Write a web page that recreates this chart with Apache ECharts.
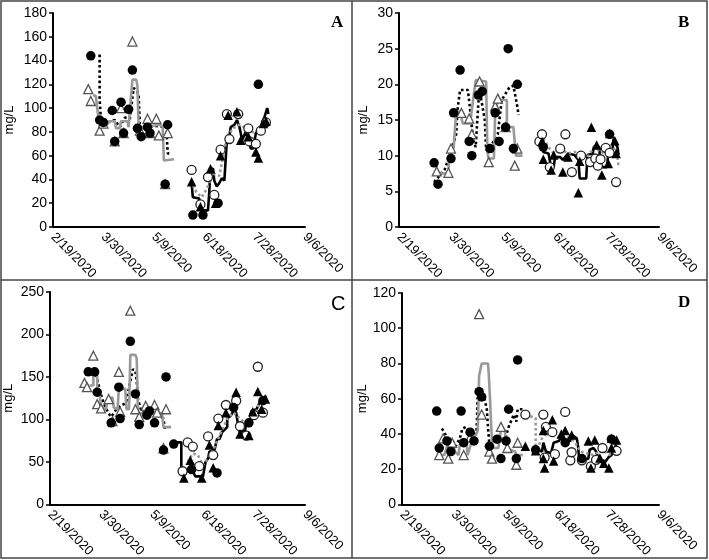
<!DOCTYPE html>
<html>
<head>
<meta charset="utf-8">
<script src="https://cdn.jsdelivr.net/npm/echarts@6/dist/echarts.min.js"></script>
<style>
  html, body { margin: 0; padding: 0; background: #fff; }
  #container { width: 709px; height: 560px; }
</style>
</head>
<body>
<div id="container"></div>
<script>
// ---- panel A ----
var aFilledCircles = [['3/20',144],['3/27',90],['3/30',88],['4/6',98],['4/8',72],['4/13',105],['4/15',79],['4/19',99],['4/22',132],['4/26',83],['4/29',76],['5/4',84],['5/6',79],['5/18',36],['5/20',86],['6/9',10],['6/17',10],['6/29',20],['7/31',120]];
var aOpenTriangles = [['3/18',116],['3/20',106],['3/27',81],['3/30',87],['4/8',72],['4/13',100],['4/15',79],['4/22',156],['4/28',81],['5/4',91],['5/6',79],['5/11',91],['5/13',77],['5/18',36],['5/20',79]];
var aOpenCircles = [['6/8',48],['6/15',19],['6/21',42],['6/26',27],['7/1',65],['7/6',95],['7/8',74],['7/15',95],['7/23',83],['7/24',72],['7/29',70],['8/2',81],['8/6',88]];
var aFilledTriangles = [['6/8',38],['6/15',17],['6/23',49],['6/27',20],['7/1',60],['7/7',94],['7/14',97],['7/17',73],['7/23',76],['7/29',63],['7/31',58],['8/4',87],['8/6',89]];
var aDotBlack = [['3/27',145],['3/27',108],['3/28',90],['4/2',88],['4/8',90],['4/12',84],['4/16',92],['4/20',91],['4/23',117],['4/26',114],['4/27',110],['4/28',84],['5/10',85],['5/19',84],['5/20',62],['5/23',61]];
var aGraySolid = [['3/22',111],['3/24',110],['3/27',83],['3/28',85],['4/1',85],['4/4',89],['4/8',89],['4/9',83],['4/12',83],['4/13',89],['4/18',89],['4/19',84],['4/22',124],['4/25',124],['4/26',119],['4/27',81],['5/3',84],['5/13',86],['5/16',85],['5/17',56],['5/25',57]];
var aBlackSolid = [['6/8',37],['6/9',25],['6/14',24],['6/15',14],['6/21',14],['6/22',29],['6/23',49],['6/25',49],['6/26',39],['6/28',34],['6/30',37],['7/2',41],['7/4',39],['7/6',73],['7/8',76],['7/9',84],['7/12',86],['7/14',90],['7/16',84],['7/17',79],['7/18',73],['7/21',80],['7/23',73],['7/25',66],['7/27',66],['7/29',79],['8/1',81],['8/2',85],['8/5',93],['8/7',100],['8/8',95]];
var aDotGray = [['6/9',35],['6/12',29],['6/16',25],['6/20',32],['6/25',45],['6/30',43],['7/6',76],['7/11',83],['7/16',86],['7/23',82],['7/28',79],['8/4',87],['8/8',93]];

// ---- panel B ----
var bFilledCircles = [['3/17',9],['3/20',6],['3/30',9.6],['4/1',16],['4/6',22],['4/13',12],['4/15',10],['4/20',18.5],['4/23',19],['4/29',11],['5/3',16],['5/6',12],['5/11',14],['5/13',25],['5/17',11],['5/20',20],['6/9',11.2],['7/30',13]];
var bOpenTriangles = [['3/19',7.8],['3/28',7.6],['3/30',11],['4/7',16],['4/13',15.2],['4/15',13],['4/21',20.4],['4/28',9.1],['5/3',16.9],['5/5',18],['5/11',14],['5/18',8.6],['5/20',11]];
var bOpenCircles = [['6/6',12],['6/8',13],['6/14',8.4],['6/22',11],['6/26',13],['7/1',7.7],['7/8',10],['7/15',9.1],['7/19',9.6],['7/21',8.6],['7/23',9.5],['7/27',11.1],['7/30',10.4],['8/4',6.3]];
var bFilledTriangles = [['6/8',12],['6/9',9.5],['6/15',8],['6/17',10.1],['6/24',7.7],['6/28',9.8],['7/6',4.8],['7/7',9.2],['7/16',14],['7/20',11.5],['7/24',7.3],['7/29',8.9],['7/30',13.1],['8/3',12.1],['8/4',10.3]];
var bDotBlack = [['3/17',6.3],['3/25',8],['3/30',10.5],['4/3',13],['4/4',16.4],['4/6',19.2],['4/12',19.2],['4/14',16],['4/16',12.2],['4/18',11.2],['4/20',17.3],['4/21',19.2],['4/25',15],['4/26',10.8],['4/28',10.8],['5/5',13],['5/8',17.8],['5/14',19.6],['5/17',19.8],['5/20',16.9],['5/21',15.7]];
var bGraySolid = [['3/18',7.8],['3/23',7.5],['3/28',7.5],['3/29',11],['4/1',11],['4/3',16.2],['4/6',16.2],['4/8',14.5],['4/13',14.5],['4/14',15],['4/18',20.6],['4/26',20.4],['4/27',10.5],['4/28',9.6],['5/2',9.6],['5/3',16],['5/5',17.8],['5/12',17.8],['5/12',14],['5/17',14],['5/19',10],['5/24',10]];
var bBlackSolid = [['6/8',11.8],['6/9',10.5],['6/13',10.3],['6/15',8.4],['6/17',8.4],['6/18',9.8],['6/22',9.8],['6/24',9.4],['6/28',10.3],['7/3',10.1],['7/6',9.4],['7/7',6.8],['7/12',6.8],['7/13',10.1],['7/17',10.3],['7/18',11.3],['7/22',11.2],['7/23',8.4],['7/28',8.4],['7/29',10.3],['8/1',10.3],['8/2',12.4],['8/5',11.2],['8/6',10.1]];
var bDotGray = [['6/9',12.4],['6/13',11.2],['6/17',10.3],['6/22',11],['6/28',10.3],['7/3',10.5],['7/8',10.5],['7/13',9.8],['7/18',11.2],['7/23',10.5],['7/28',10.3],['8/2',11.2],['8/5',9.8],['8/6',8.4]];

// ---- panel C ----
var cFilledCircles = [['3/20',156],['3/25',156],['3/27',132],['4/7',96],['4/13',138],['4/14',101],['4/22',192],['4/26',130],['4/29',94],['5/5',105],['5/7',110],['5/11',96],['5/18',64],['5/20',150],['5/26',71],['6/9',41],['6/29',37],['7/12',114],['7/24',96],['8/4',122]];
var cOpenTriangles = [['3/17',143],['3/19',138],['3/24',175],['3/27',118],['3/30',113],['4/5',124],['4/8',98],['4/13',156],['4/14',109],['4/22',228],['4/26',112],['4/29',103],['5/4',116],['5/11',117],['5/13',108],['5/18',66],['5/20',112]];
var cOpenCircles = [['6/2',39],['6/6',73],['6/10',68],['6/15',45],['6/22',80],['6/26',58],['6/30',101],['7/6',117],['7/14',122],['7/17',92],['7/22',81],['7/28',105],['7/31',162],['8/4',108]];
var cFilledTriangles = [['6/3',31],['6/8',52],['6/17',31],['6/23',70],['6/26',43],['6/30',93],['7/6',108],['7/14',132],['7/17',83],['7/24',81],['7/27',109],['7/31',133],['8/3',112],['8/6',124]];
var cDotBlack = [['3/25',159],['3/27',147],['3/31',124],['4/2',116],['4/5',107],['4/7',103],['4/11',112],['4/14',116],['4/17',118],['4/19',122],['4/22',145],['4/24',159],['4/26',157],['4/27',145],['4/28',124],['5/1',108],['5/11',107],['5/18',101],['5/19',91],['5/19',87]];
var cGraySolid = [['3/21',140],['3/24',140],['3/24',155],['3/27',153],['3/27',136],['3/29',130],['3/30',114],['4/3',112],['4/4',124],['4/8',126],['4/9',114],['4/12',112],['4/13',136],['4/18',136],['4/19',112],['4/21',112],['4/22',176],['4/26',176],['4/27',172],['4/28',108],['5/1',107],['5/15',108],['5/17',107],['5/18',91],['5/24',91]];
var cBlackSolid = [['5/28',73],['6/1',73],['6/1',35],['6/4',35],['6/5',39],['6/10',39],['6/12',33],['6/18',33],['6/20',50],['6/22',54],['6/23',62],['6/27',64],['6/29',77],['7/1',77],['7/3',85],['7/7',91],['7/7',101],['7/10',105],['7/12',110],['7/14',108],['7/16',89],['7/17',85],['7/21',87],['7/22',97],['7/25',97],['7/26',110],['7/30',112],['8/2',122],['8/4',120],['8/6',128]];
var cDotGray = [['6/6',50],['6/10',60],['6/14',58],['6/16',52],['6/18',46],['6/26',64],['7/1',81],['7/7',101],['7/12',108],['7/20',97],['7/28',101],['8/4',132]];

// ---- panel D ----
var dFilledCircles = [['3/17',53],['3/19',32],['3/25',36],['3/28',30],['4/5',53],['4/7',35],['4/12',41],['4/15',36],['4/19',64],['4/21',61],['4/27',33],['5/3',37],['5/6',26],['5/10',36],['5/12',54],['5/18',26],['5/19',82],['6/2',31],['6/25',35],['7/8',26],['7/31',37]];
var dOpenTriangles = [['3/19',28],['3/22',37.5],['3/26',26],['3/29',35],['4/7',28],['4/12',38],['4/19',108],['4/21',51],['4/27',30],['4/29',26],['5/6',44],['5/11',32],['5/18',22.5],['5/19',35]];
var dOpenCircles = [['5/25',51],['6/8',51],['6/9',26.6],['6/10',44],['6/15',41],['6/17',28.5],['6/25',52.5],['6/29',25],['6/30',29.6],['7/8',25],['7/15',21.6],['7/19',25.3],['7/24',32],['8/4',30.4]];
var dFilledTriangles = [['5/25',33],['6/2',30.4],['6/8',42],['6/8',26],['6/9',20.6],['6/15',48],['6/16',24.7],['6/22',40],['6/25',42],['6/30',39.4],['7/13',36],['7/15',20.6],['7/18',36.6],['7/22',26.3],['7/25',23.4],['7/29',20.6],['7/31',37.5],['7/31',32],['8/4',36.6]];
var dDotBlack = [['3/21',43],['3/23',41],['3/25',37.5],['3/27',33],['3/31',32],['4/4',37.5],['4/6',43],['4/9',44],['4/12',41],['4/14',39],['4/17',41],['4/18',64],['4/21',65],['4/23',61],['4/25',54],['4/26',43],['4/27',34],['4/29',32],['5/1',36],['5/4',37.5],['5/8',36],['5/10',39],['5/12',44],['5/13',45],['5/16',51],['5/18',47],['5/19',54],['5/23',54]];
var dGraySolid = [['3/19',28],['3/23',28],['3/25',33],['3/27',34],['3/30',36],['3/31',30],['4/3',28],['4/4',34],['4/6',36],['4/9',36],['4/10',28],['4/14',37.5],['4/17',40],['4/18',42],['4/19',73],['4/21',80],['4/26',80],['4/27',67.5],['4/29',36],['4/30',32],['5/4',32],['5/5',37.5],['5/6',42],['5/9',42],['5/10',34],['5/13',31],['5/17',30],['5/18',28],['5/23',28]];
var dBlackSolid = [['5/31',31],['6/3',31],['6/7',30],['6/8',35],['6/9',36],['6/10',30],['6/14',29],['6/16',35],['6/20',36],['6/22',38],['6/23',36],['6/29',36],['7/1',39],['7/4',37.5],['7/5',33],['7/6',25],['7/9',25],['7/13',26],['7/14',31],['7/17',32],['7/19',30],['7/21',26],['7/23',24],['7/26',24],['7/29',27],['7/31',28],['8/3',33],['8/4',34]];
var dDotGray = [['5/25',51],['6/2',49],['6/2',30],['6/7',37.5],['6/11',41],['6/16',39],['6/21',37.5],['6/27',38],['7/2',36],['7/7',30],['7/12',29],['7/17',28],['7/24',31],['7/29',28],['8/4',31]];

var yMax = [180, 30, 250, 120];
var yStep = [20, 5, 50, 20];

// dates to excel serial numbers so the 40 day ticks land on 2/19/2020 etc.
function serial(md) {
  var p = md.split('/');
  return (Date.UTC(2020, +p[0] - 1, +p[1]) - Date.UTC(1899, 11, 30)) / 864e5;
}
function pts(arr) {
  return arr.map(function (r) { return [serial(r[0]), r[1]]; });
}
function dateLabel(v) {
  var d = new Date(Date.UTC(1899, 11, 30) + v * 864e5);
  return (d.getUTCMonth() + 1) + '/' + d.getUTCDate() + '/' + d.getUTCFullYear();
}

var panels = [
  [aFilledCircles, aOpenTriangles, aOpenCircles, aFilledTriangles, aDotBlack, aGraySolid, aBlackSolid, aDotGray],
  [bFilledCircles, bOpenTriangles, bOpenCircles, bFilledTriangles, bDotBlack, bGraySolid, bBlackSolid, bDotGray],
  [cFilledCircles, cOpenTriangles, cOpenCircles, cFilledTriangles, cDotBlack, cGraySolid, cBlackSolid, cDotGray],
  [dFilledCircles, dOpenTriangles, dOpenCircles, dFilledTriangles, dDotBlack, dGraySolid, dBlackSolid, dDotGray]
];

var grids = [
  {left: 53, top: 13, width: 252, height: 214},
  {left: 399, top: 13, width: 260, height: 214},
  {left: 50, top: 292, width: 255, height: 215},
  {left: 402, top: 293, width: 257, height: 214}
];
var nameGaps = [37, 29, 35, 32];

var xAxes = [], yAxes = [], series = [];
for (var i = 0; i < 4; i++) {
  xAxes.push({
    gridIndex: i, type: 'value', min: 43880, max: 44080, interval: 40,
    axisLine: {lineStyle: {color: '#000', width: 2}},
    axisTick: {show: false},
    splitLine: {show: false},
    axisLabel: {rotate: -45, color: '#000', fontSize: 13, fontFamily: 'Liberation Sans', margin: 8, formatter: dateLabel}
  });
  yAxes.push({
    gridIndex: i, type: 'value', min: 0, max: yMax[i], interval: yStep[i],
    name: 'mg/L', nameLocation: 'middle', nameGap: nameGaps[i],
    nameTextStyle: {color: '#000', fontSize: 13, fontFamily: 'Liberation Sans'},
    axisLine: {show: true, lineStyle: {color: '#000', width: 2}},
    axisTick: {show: true, length: 4, lineStyle: {color: '#000', width: 1.5}},
    splitLine: {show: false},
    axisLabel: {color: '#000', fontSize: 14, fontFamily: 'Liberation Sans', margin: 6}
  });
  var p = panels[i];
  var base = {xAxisIndex: i, yAxisIndex: i, silent: true, animation: false};
  // lines first
  series.push(Object.assign({type: 'line', data: pts(p[4]), showSymbol: false, z: 2,
    lineStyle: {color: '#000', width: 2.6, type: 'dotted'}}, base));
  series.push(Object.assign({type: 'line', data: pts(p[5]), showSymbol: false, z: 2,
    lineStyle: {color: '#999', width: 2.6}}, base));
  series.push(Object.assign({type: 'line', data: pts(p[6]), showSymbol: false, z: 2,
    lineStyle: {color: '#000', width: 2.6}}, base));
  series.push(Object.assign({type: 'line', data: pts(p[7]), showSymbol: false, z: 2,
    lineStyle: {color: '#999', width: 2.6, type: 'dotted'}}, base));
  // points
  series.push(Object.assign({type: 'scatter', data: pts(p[1]), symbol: 'triangle', symbolSize: 9, z: 3,
    itemStyle: {color: '#fff', borderColor: '#555', borderWidth: 1.3, opacity: 1}}, base));
  series.push(Object.assign({type: 'scatter', data: pts(p[2]), symbol: 'circle', symbolSize: 9, z: 3,
    itemStyle: {color: '#fff', borderColor: '#222', borderWidth: 1.3, opacity: 1}}, base));
  series.push(Object.assign({type: 'scatter', data: pts(p[0]), symbol: 'circle', symbolSize: 9.5, z: 4,
    itemStyle: {color: '#000', opacity: 1}}, base));
  series.push(Object.assign({type: 'scatter', data: pts(p[3]), symbol: 'triangle', symbolSize: 9.5, z: 4,
    itemStyle: {color: '#000', opacity: 1}}, base));
}

var frameStyle = {stroke: '#444', lineWidth: 1.5, fill: null};
var graphic = [
  {type: 'rect', shape: {x: 1, y: 1, width: 706, height: 557}, style: frameStyle},
  {type: 'line', shape: {x1: 352, y1: 1, x2: 352, y2: 558}, style: frameStyle},
  {type: 'line', shape: {x1: 1, y1: 280, x2: 707, y2: 280}, style: frameStyle},
  {type: 'text', left: 331, top: 14, style: {text: 'A', font: 'bold 17px "Liberation Serif"', fill: '#000'}},
  {type: 'text', left: 678, top: 14, style: {text: 'B', font: 'bold 17px "Liberation Serif"', fill: '#000'}},
  {type: 'text', left: 331, top: 294, style: {text: 'C', font: '20px "Liberation Sans"', fill: '#000'}},
  {type: 'text', left: 678, top: 294, style: {text: 'D', font: 'bold 17px "Liberation Serif"', fill: '#000'}}
];

var myChart = echarts.init(document.getElementById('container'));
var option = {
  backgroundColor: '#fff',
  animation: false,
  grid: grids,
  xAxis: xAxes,
  yAxis: yAxes,
  series: series,
  graphic: graphic
};
myChart.setOption(option, true);
</script>
</body>
</html>
